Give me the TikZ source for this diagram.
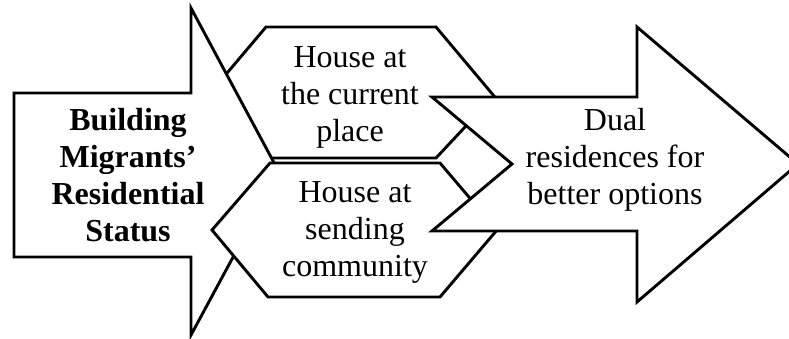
\documentclass[tikz,border=0pt]{standalone}
\usepackage{fontspec}
\setmainfont{Liberation Serif}
\begin{document}
\begin{tikzpicture}[x=1pt,y=-1pt,
  shapeline/.style={draw=black,fill=white,line width=2.9pt,line join=miter},
  lbl/.style={align=center,inner sep=0pt,font=\fontsize{32}{37}\selectfont},
  boldlbl/.style={lbl,font=\fontsize{32}{37}\selectfont\bfseries}]
\clip (0,0) rectangle (789,338);
% upper hexagon
\draw[shapeline] (211,92) -- (266,27) -- (436,27) -- (494,96) -- (436,158) -- (270,158) -- cycle;
% left block arrow
\draw[shapeline] (14,93) -- (191,93) -- (191,8) -- (279,172) -- (191,335) -- (191,257) -- (14,257) -- cycle;
% lower hexagon
\draw[shapeline] (212,230) -- (270,163) -- (440,163) -- (497,230) -- (440,297) -- (268,297) -- cycle;
% right notched arrow
\draw[shapeline] (432,97) -- (637,97) -- (637,27) -- (798,164) -- (637,302) -- (637,231) -- (432,231) -- (512,164) -- cycle;
% labels
\node[boldlbl] (status) at (128,175) {Building\\Migrants'\\Residential\\Status};
\node[lbl] (current) at (350,97) {House at\\the current\\place};
\node[lbl] (sending) at (355,232) {House at\\sending\\community};
\node[lbl] (dual) at (615,160) {Dual\\residences for\\better options};
\end{tikzpicture}
\end{document}
